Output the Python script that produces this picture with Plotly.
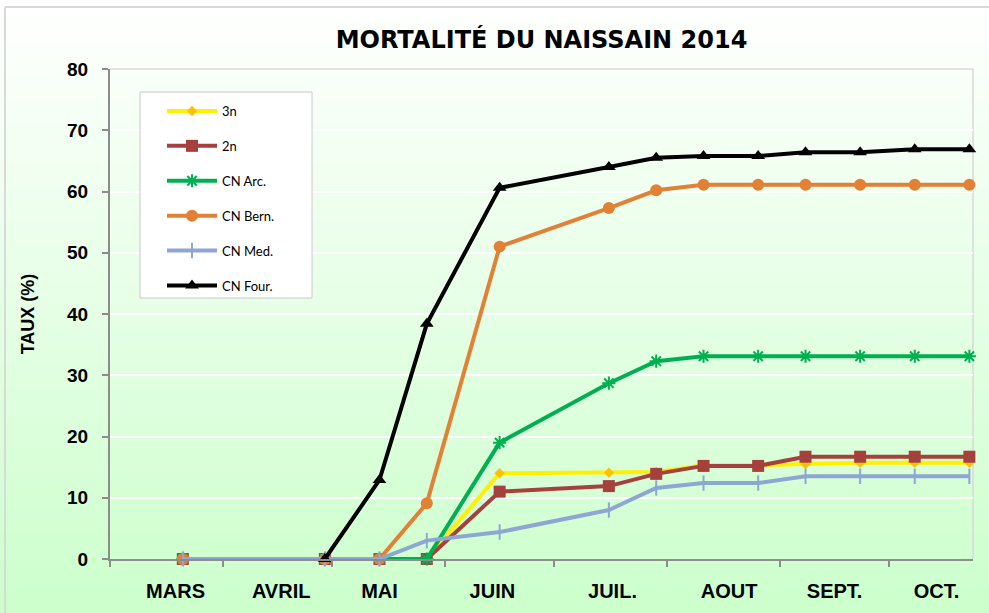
import base64, struct, zlib
import plotly.graph_objects as go

# ---------------- data ----------------
dates = ["2014-03-21", "2014-04-29", "2014-05-14", "2014-05-27", "2014-06-16",
         "2014-07-16", "2014-07-29", "2014-08-11", "2014-08-26", "2014-09-08",
         "2014-09-23", "2014-10-08", "2014-10-23"]

s_3n = [0, 0, 0, 0, 14.0, 14.1, 14.2, 15.3, 15.3, 15.5, 15.7, 15.7, 15.7]
s_2n = [0, 0, 0, 0, 11.0, 11.9, 13.9, 15.2, 15.2, 16.7, 16.7, 16.7, 16.7]
s_arc = [0, 0, 0, 0, 19.0, 28.7, 32.3, 33.1, 33.1, 33.1, 33.1, 33.1, 33.1]
s_bern = [0, 0, 0, 9.1, 51.0, 57.3, 60.2, 61.1, 61.1, 61.1, 61.1, 61.1, 61.1]
s_med = [0, 0, 0, 3.0, 4.4, 8.0, 11.6, 12.4, 12.4, 13.5, 13.5, 13.5, 13.5]
s_four = [None, 0, 12.9, 38.4, 60.6, 64.0, 65.5, 65.8, 65.8, 66.4, 66.4, 66.9, 66.9]

month_labels = ["MARS", "AVRIL", "MAI", "JUIN", "JUIL.", "AOUT", "SEPT.", "OCT."]
label_dates = ["2014-03-19", "2014-04-17", "2014-05-14", "2014-06-14",
               "2014-07-17", "2014-08-18", "2014-09-16", "2014-10-14"]
month_starts = ["2014-03-01", "2014-04-01", "2014-05-01", "2014-06-01",
                "2014-07-01", "2014-08-01", "2014-09-01", "2014-10-01"]

# ---------------- gradient background (PNG data URI) ----------------
def gradient_png(h=256, top=(255, 255, 255), bottom=(204, 255, 204)):
    raw = b""
    for i in range(h):
        t = i / (h - 1)
        c = [round(top[k] + (bottom[k] - top[k]) * t) for k in range(3)]
        raw += b"\x00" + bytes(c)
    def chunk(tag, data):
        return struct.pack(">I", len(data)) + tag + data + struct.pack(">I", zlib.crc32(tag + data) & 0xffffffff)
    png = b"\x89PNG\r\n\x1a\n"
    png += chunk(b"IHDR", struct.pack(">IIBBBBB", 1, h, 8, 2, 0, 0, 0))
    png += chunk(b"IDAT", zlib.compress(raw))
    png += chunk(b"IEND", b"")
    return "data:image/png;base64," + base64.b64encode(png).decode()

W, H = 989, 613
L, R, T, B = 110, 16, 69, 54
pw, ph = W - L - R, H - T - B

def px(x):
    return (x - L) / pw

def py(y):
    return (H - B - y) / ph

fig = go.Figure()

series = [
    ("3n", s_3n, "#FFF000", dict(symbol="diamond", size=8, color="#FFC000")),
    ("2n", s_2n, "#A5403D", dict(symbol="square", size=12, color="#A5403D")),
    ("CN Arc.", s_arc, "#00B050", dict(symbol="asterisk-open", size=11, color="#00B050", line=dict(width=2, color="#00B050"))),
    ("CN Bern.", s_bern, "#E28035", dict(symbol="circle", size=12, color="#E28035")),
    ("CN Med.", s_med, "#8EA6D3", dict(symbol="line-ns-open", size=11, color="#8EA6D3", line=dict(width=2, color="#8EA6D3"))),
    ("CN Four.", s_four, "#000000", dict(symbol="triangle-up", size=12, color="#000000")),
]
for i, (name, ys, col, mk) in enumerate(series):
    fig.add_trace(go.Scatter(x=dates, y=ys, name=name, mode="lines+markers",
                             line=dict(color=col, width=4), marker=mk,
                             legendgroup="g%d" % i, connectgaps=False,
                             cliponaxis=False))

frame = "#D9D9D9"
fig.update_layout(
    width=W, height=H,
    margin=dict(l=L, r=R, t=T, b=B, autoexpand=False),
    paper_bgcolor="white",
    plot_bgcolor="rgba(0,0,0,0)",
    title=dict(text="<b>MORTALITÉ DU NAISSAIN 2014</b>", x=0.5, xref="paper",
               y=1 - 40 / H, yanchor="middle",
               font=dict(family="DejaVu Sans", size=24, color="black")),
    font=dict(family="Liberation Sans, Arial", color="black"),
    images=[dict(source=gradient_png(), xref="paper", yref="paper",
                 x=-L / pw, y=1 + T / ph, sizex=W / pw, sizey=H / ph,
                 sizing="stretch", xanchor="left", yanchor="top", layer="below")],
    showlegend=True,
    legend=dict(x=px(162), y=py(96), xanchor="left", yanchor="top",
                bgcolor="rgba(0,0,0,0)", borderwidth=0, tracegroupgap=15,
                itemwidth=50,
                font=dict(family="Lato, Liberation Sans", size=13, color="black")),
    shapes=[
        dict(type="rect", xref="paper", yref="paper",
             x0=px(140), x1=px(312), y0=py(298), y1=py(92),
             fillcolor="white", line=dict(color="#C8C8C8", width=1), layer="above"),
        # plot-area border (top and right)
        dict(type="line", xref="paper", yref="paper", x0=1, x1=1, y0=0, y1=1,
             line=dict(color=frame, width=1.5), layer="below"),
        dict(type="line", xref="paper", yref="paper", x0=0, x1=1, y0=1, y1=1,
             line=dict(color=frame, width=1.5), layer="below"),
        # outer chart frame (top and left)
        dict(type="line", xref="paper", yref="paper", x0=px(5), x1=px(989), y0=py(7), y1=py(7),
             line=dict(color=frame, width=2), layer="below"),
        dict(type="line", xref="paper", yref="paper", x0=px(5), x1=px(5), y0=py(7), y1=py(613),
             line=dict(color=frame, width=2), layer="below"),
    ],
)

fig.update_xaxes(
    type="date", range=["2014-03-01", "2014-10-24"],
    tickmode="array", tickvals=label_dates, ticktext=["<b>%s</b>" % t for t in month_labels],
    ticks="", ticklabelstandoff=13,
    tickfont=dict(family="Liberation Sans, Arial", size=20, color="black"),
    showgrid=False, zeroline=False,
    showline=True, linecolor="#8C8C8C", linewidth=2,
    minor=dict(tickmode="array", tickvals=month_starts, ticks="outside",
               ticklen=6, tickwidth=2, tickcolor="#8C8C8C", showgrid=False),
)
fig.update_yaxes(
    range=[0, 80], dtick=10, tick0=0,
    ticks="outside", ticklen=6, tickwidth=2, tickcolor="#8C8C8C",
    ticklabelstandoff=10,
    tickfont=dict(family="Liberation Sans, Arial", size=19, color="black"),
    tickprefix="<b>", ticksuffix="</b>",
    showgrid=True, gridcolor="white", gridwidth=1.5,
    zeroline=False, showline=True, linecolor="#8C8C8C", linewidth=2,
    title=dict(text="<b>TAUX (%)</b>", standoff=28,
               font=dict(family="Liberation Sans, Arial", size=18, color="black")),
)

fig.write_html("out.html", config={"displayModeBar": False},
               post_script="document.body.style.margin='0';")
